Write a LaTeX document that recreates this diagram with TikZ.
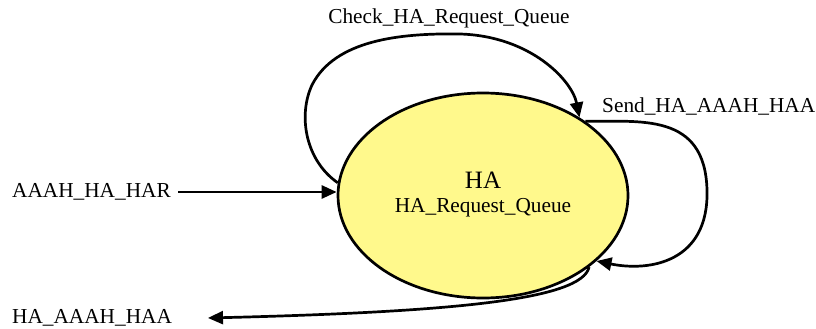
\documentclass[tikz,border=0pt]{standalone}
\usepackage{fontspec}
\setmainfont{Liberation Serif}
\usetikzlibrary{arrows.meta,shapes.geometric}
\begin{document}
\begin{tikzpicture}[x=1pt,y=-1pt,
  lbl/.style={inner sep=0pt,font=\fontsize{21.3}{23}\selectfont},
  flow/.style={line width=2.7pt,-{Triangle[length=15pt,width=13pt]}},
  statenode/.style={ellipse,draw,line width=2.7pt,fill=yellow!45,
    minimum width=290pt,minimum height=205pt,inner sep=0pt}]
\useasboundingbox (0,0) rectangle (816,329);
\node[statenode] (ha) at (483,195.5) {};
\node[font=\fontsize{25}{27}\selectfont] (hat) at (483,180) {HA};
\node[lbl] (haq) at (483,208) {HA\_Request\_Queue};
\node[lbl] (chk) at (449,18) {Check\_HA\_Request\_Queue};
\node[lbl,anchor=west] (snd) at (602,106) {Send\_HA\_AAAH\_HAA};
\node[lbl,anchor=west] (inl) at (12,192) {AAAH\_HA\_HAR};
\node[lbl,anchor=west] (outl) at (12,318) {HA\_AAAH\_HAA};
\coordinate (outtip) at (208,318);
\coordinate (instart) at (178,192);
% incoming event
\draw[flow] (instart) -- (instart -| ha.west);
% self loop over the top
\draw[flow] (ha.175) .. controls (305,160) and (298,115) .. (312,85)
  .. controls (335,40) and (400,33) .. (460,34)
  .. controls (530,36) and (572,80) .. (ha.39);
% self loop on the right
\draw[flow] (ha.36) .. controls (640,122) and (705,112) .. (707,190)
  .. controls (709,262) and (650,272) .. (ha.-30);
% outgoing event
\draw[flow] (ha.-34) .. controls (582,300) and (450,312) .. (outtip);
\end{tikzpicture}
\end{document}
